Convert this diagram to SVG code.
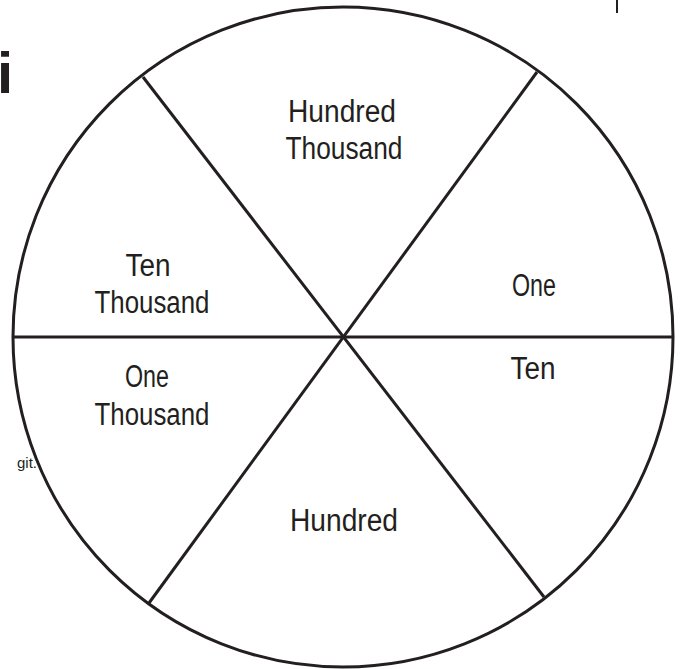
<svg xmlns="http://www.w3.org/2000/svg" width="683" height="669" viewBox="0 0 683 669">
<style>
.ln{stroke:#231f20;stroke-width:3;fill:none}
.lb{font-family:"Liberation Sans",Arial,sans-serif;font-size:31px;fill:#231f20;text-anchor:middle}
</style>
<rect width="683" height="669" fill="#fff"/>
<text x="-3" y="93" font-family="Liberation Sans,Arial,sans-serif" font-weight="bold" font-size="58" fill="#231f20">i</text>
<text x="37" y="468" font-family="Liberation Sans,Arial,sans-serif" font-size="15" fill="#231f20" text-anchor="end">git.</text>
<line x1="617" y1="0" x2="617" y2="13" stroke="#231f20" stroke-width="2"/>
<g id="wheel">
<circle cx="343" cy="337" r="330" class="ln" style="fill:#fff"/>
</g>
<g id="connectors">
<line class="ln" x1="12" y1="337" x2="674" y2="337"/>
<line class="ln" x1="143" y1="77" x2="544" y2="597"/>
<line class="ln" x1="537" y1="72" x2="149" y2="603"/>
</g>
<g id="hundred-thousand"><text class="lb" x="342" y="122" textLength="108" lengthAdjust="spacingAndGlyphs">Hundred</text><text class="lb" x="344" y="159" textLength="117" lengthAdjust="spacingAndGlyphs">Thousand</text></g>
<g id="ten-thousand"><text class="lb" x="148" y="276" textLength="45" lengthAdjust="spacingAndGlyphs">Ten</text><text class="lb" x="152" y="313" textLength="115" lengthAdjust="spacingAndGlyphs">Thousand</text></g>
<g id="one-thousand"><text class="lb" x="147" y="387" textLength="44" lengthAdjust="spacingAndGlyphs">One</text><text class="lb" x="152" y="425" textLength="115" lengthAdjust="spacingAndGlyphs">Thousand</text></g>
<g id="one"><text class="lb" x="534" y="296" textLength="44" lengthAdjust="spacingAndGlyphs">One</text></g>
<g id="ten"><text class="lb" x="533" y="379" textLength="45" lengthAdjust="spacingAndGlyphs">Ten</text></g>
<g id="hundred"><text class="lb" x="344" y="531" textLength="108" lengthAdjust="spacingAndGlyphs">Hundred</text></g>
</svg>
